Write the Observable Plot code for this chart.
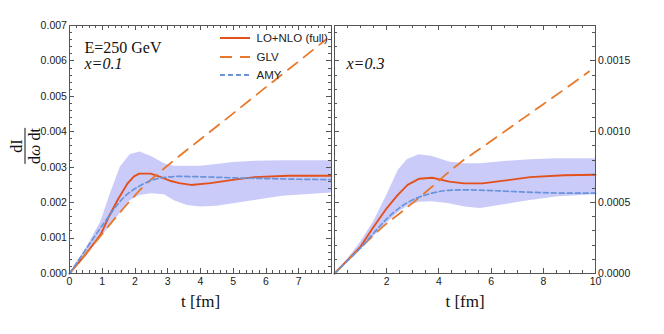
<!DOCTYPE html>
<html>
<head>
<meta charset="utf-8">
<script src="https://cdn.jsdelivr.net/npm/d3@7"></script>
<script src="https://cdn.jsdelivr.net/npm/@observablehq/plot@0.6"></script>
<style>
html, body { margin: 0; padding: 0; background: #fff; }
#wrap { position: relative; width: 664px; height: 334px; overflow: hidden; background: #fff; }
#left, #right { position: absolute; top: 0; }
#left { left: 0; }
#right { left: 333px; }
svg rect, svg line { shape-rendering: crispEdges; }
#ylab { position: absolute; left: 25px; top: 146px; transform: translate(-50%, -50%) rotate(-90deg);
  font-family: "Liberation Serif", "Times New Roman", Times, serif; font-size: 16px; color: #111; text-align: center; line-height: 15px; white-space: nowrap; }
#ylab .num { border-bottom: 1px solid #111; padding: 0 3px 1px 3px; }
#ylab .den { padding-top: 1px; }
#legend { position: absolute; left: 220px; top: 30px; font-family: "Liberation Sans", Arial, Helvetica, sans-serif; font-size: 11.5px; color: #222; }
#legend .row { position: absolute; left: 0; height: 16px; display: flex; align-items: center; white-space: nowrap; }
#legend svg { display: block; margin-right: 6.5px; }
</style>
</head>
<body>
<div id="wrap">
  <div id="left"></div>
  <div id="right"></div>
  <div id="ylab"><div class="num">dI</div><div class="den">d<i>ω</i> dt</div></div>
  <div id="legend"></div>
</div>
<script>
// ---------- tick definitions ----------
const xTicksL = [0, 1, 2, 3, 4, 5, 6, 7];
const xLabelsL = ["0", "1", "2", "3", "4", "5", "6", "7"];
const yTicksL = [0, 0.001, 0.002, 0.003, 0.004, 0.005, 0.006, 0.007];
const yLabelsL = ["0.000", "0.001", "0.002", "0.003", "0.004", "0.005", "0.006", "0.007"];
const xTicksR = [2, 4, 6, 8, 10];
const xLabelsR = ["2", "4", "6", "8", "10"];
const yTicksR = [0, 0.0005, 0.0010, 0.0015];
const yLabelsR = ["0.0000", "0.0005", "0.0010", "0.0015"];

// ---------- left panel data (x = 0.1) ----------
const bandTL  = [0, 0.5, 0.95, 1.25, 1.55, 1.85, 2.15, 2.5, 2.9, 3.2, 3.6, 4.0, 4.5, 5.0, 5.65, 6.5, 8.0];
const bandHiL = [0, 0.00070, 0.00145, 0.00225, 0.00300, 0.00335, 0.00343, 0.00330, 0.00310, 0.00303, 0.00303, 0.00303, 0.00308, 0.00313, 0.00317, 0.00318, 0.00318];
const bandLoL = [0, 0.00048, 0.00100, 0.00135, 0.00170, 0.00205, 0.00220, 0.00225, 0.00222, 0.00205, 0.00192, 0.00188, 0.00190, 0.00197, 0.00206, 0.00218, 0.00227];

const fullTL = [0, 0.5, 0.95, 1.2, 1.46, 1.77, 1.97, 2.13, 2.48, 2.79, 3.1, 3.35, 3.71, 4.3, 5.04, 5.65, 6.68, 8.0];
const fullVL = [0, 0.00055, 0.00110, 0.00160, 0.00206, 0.00254, 0.00274, 0.00282, 0.00282, 0.00272, 0.00261, 0.00255, 0.00250, 0.00255, 0.00265, 0.00272, 0.00276, 0.00276];

const glvTL = [0, 0.5, 1.0, 1.5, 1.9, 2.2, 2.6, 3.0, 4.0, 5.0, 6.0, 7.0, 7.85];
const glvVL = [0, 0.00056, 0.00112, 0.00168, 0.00210, 0.00240, 0.00274, 0.00305, 0.00379, 0.00452, 0.00526, 0.00599, 0.00662];

const amyTL = [0, 0.5, 1.05, 1.67, 2.18, 2.69, 3.35, 4.0, 5.0, 6.0, 7.0, 8.0];
const amyVL = [0, 0.00068, 0.00142, 0.00216, 0.00249, 0.00268, 0.00274, 0.00273, 0.00270, 0.00268, 0.00266, 0.00265];

// ---------- right panel data (x = 0.3) ----------
const bandTR  = [0, 0.5, 1.0, 1.5, 2.0, 2.45, 2.8, 3.25, 3.75, 4.4, 5.0, 5.6, 6.5, 7.5, 8.5, 10];
const bandHiR = [0, 0.000100, 0.000220, 0.000365, 0.000550, 0.000730, 0.000805, 0.000838, 0.000826, 0.000786, 0.000775, 0.000775, 0.000790, 0.000803, 0.000810, 0.000810];
const bandLoR = [0, 0.000085, 0.000165, 0.000260, 0.000355, 0.000430, 0.000475, 0.000502, 0.000507, 0.000493, 0.000470, 0.000458, 0.000485, 0.000515, 0.000540, 0.000555];

const fullTR = [0, 0.5, 1.0, 1.5, 2.0, 2.4, 2.8, 3.25, 3.75, 4.4, 4.96, 5.67, 6.5, 7.5, 8.8, 10];
const fullVR = [0, 0.000095, 0.000190, 0.000330, 0.000460, 0.000550, 0.000625, 0.000669, 0.000676, 0.000648, 0.000636, 0.000636, 0.000655, 0.000680, 0.000693, 0.000697];

const glvTR = [0, 0.5, 1.0, 1.5, 1.77, 2.54, 3.69, 4.4, 4.77, 6.0, 7.0, 8.0, 9.0, 9.75];
const glvVR = [0, 0.000092, 0.000182, 0.000270, 0.000317, 0.000430, 0.000605, 0.000720, 0.000775, 0.000935, 0.001065, 0.001195, 0.001325, 0.001425];

const amyTR = [0, 0.5, 1.0, 1.5, 2.0, 2.5, 3.0, 3.5, 4.0, 4.5, 5.0, 6.0, 7.0, 8.0, 9.0, 10];
const amyVR = [0, 0.000090, 0.000180, 0.000285, 0.000385, 0.000465, 0.000520, 0.000555, 0.000578, 0.000588, 0.000590, 0.000585, 0.000577, 0.000570, 0.000567, 0.000567];

// ---------- legend ----------
const legendNames = ["LO+NLO (full)", "GLV", "AMY"];

// ---------- styles ----------
const C_FULL = "#e2501c";
const C_GLV = "#e8782a";
const C_AMY = "#6a93da";
const C_BAND = "#cbcbf9";
const C_FRAME = "#555";
const DASH_GLV = "12,8";
const DASH_AMY = "5,3";
const SERIF = '"Liberation Serif", "Times New Roman", Times, serif';
const SANS = '"Liberation Sans", Arial, Helvetica, sans-serif';

function rows(ts, ...cols) {
  return ts.map((t, i) => ({t, a: cols[0][i], b: cols[1] ? cols[1][i] : undefined}));
}

function frameTicks(xMajor, xMinor, yMajor, yMinor, innerW, innerH) {
  const M = 5, m = 3;
  return [
    Plot.tickX(xMajor, {x: d => d, insetTop: innerH - M, stroke: C_FRAME}),
    Plot.tickX(xMinor, {x: d => d, insetTop: innerH - m, stroke: C_FRAME}),
    Plot.tickX(xMajor, {x: d => d, insetBottom: innerH - M, stroke: C_FRAME}),
    Plot.tickX(xMinor, {x: d => d, insetBottom: innerH - m, stroke: C_FRAME}),
    Plot.tickY(yMajor, {y: d => d, insetRight: innerW - M, stroke: C_FRAME}),
    Plot.tickY(yMinor, {y: d => d, insetRight: innerW - m, stroke: C_FRAME}),
    Plot.tickY(yMajor, {y: d => d, insetLeft: innerW - M, stroke: C_FRAME}),
    Plot.tickY(yMinor, {y: d => d, insetLeft: innerW - m, stroke: C_FRAME}),
  ];
}

function panel(o) {
  const innerW = o.width - o.marginLeft - o.marginRight;
  const innerH = o.height - o.marginTop - o.marginBottom;
  return Plot.plot({
    width: o.width, height: o.height,
    marginLeft: o.marginLeft, marginRight: o.marginRight,
    marginTop: o.marginTop, marginBottom: o.marginBottom,
    x: {domain: o.xDomain},
    y: {domain: o.yDomain},
    style: {background: "transparent", fontFamily: SANS, fontSize: "10.5px", color: "#1a1a1a"},
    marks: [
      Plot.areaY(rows(o.band[0], o.band[1], o.band[2]), {x: "t", y1: "b", y2: "a", fill: C_BAND, curve: "linear"}),
      Plot.line(rows(o.full[0], o.full[1]), {x: "t", y: "a", stroke: C_FULL, strokeWidth: 1.9, curve: "linear"}),
      Plot.line(rows(o.glv[0], o.glv[1]), {x: "t", y: "a", stroke: C_GLV, strokeWidth: 1.8, strokeDasharray: DASH_GLV, curve: "monotone-x"}),
      Plot.line(rows(o.amy[0], o.amy[1]), {x: "t", y: "a", stroke: C_AMY, strokeWidth: 1.7, strokeDasharray: DASH_AMY, curve: "monotone-x"}),
      Plot.frame({stroke: C_FRAME, strokeWidth: 1}),
      ...frameTicks(o.xTicks, o.xMinor, o.yAxisTicks, o.yMinor, innerW, innerH),
      Plot.axisX({ticks: o.xTicks, tickSize: 0, tickPadding: 4, label: null, fontFamily: SANS,
        tickFormat: d => o.xLabels[o.xTicks.indexOf(d)]}),
      Plot.axisY({anchor: o.yAnchor, ticks: o.yAxisTicks, tickSize: 0, tickPadding: 2.6, label: null, fontFamily: SANS,
        tickFormat: d => o.yLabels[o.yAxisTicks.indexOf(d)]}),
      Plot.text(["t [fm]"], {text: d => d, frameAnchor: "bottom", dy: 33,
        fontFamily: SERIF, fontSize: 17, fill: "#111"}),
      ...o.extra
    ]
  });
}

const left = panel({
  width: 332, height: 334, marginLeft: 69, marginRight: 1, marginTop: 25, marginBottom: 61,
  xDomain: [0, 8], yDomain: [0, 0.007],
  band: [bandTL, bandHiL, bandLoL], full: [fullTL, fullVL], glv: [glvTL, glvVL], amy: [amyTL, amyVL],
  xTicks: xTicksL, xLabels: xLabelsL, xMinor: d3.range(0, 8.01, 0.2),
  yAxisTicks: yTicksL, yLabels: yLabelsL, yMinor: d3.range(0, 0.00701, 0.0002), yAnchor: "left",
  extra: [
    Plot.text(["E=250 GeV"], {text: d => d, frameAnchor: "top-left", dx: 15, dy: 16, textAnchor: "start",
      fontFamily: SERIF, fontSize: 16, fill: "#111"}),
    Plot.text(["x=0.1"], {text: d => d, frameAnchor: "top-left", dx: 15, dy: 32, textAnchor: "start",
      fontFamily: SERIF, fontStyle: "italic", fontSize: 16, fill: "#111"})
  ]
});
document.getElementById("left").appendChild(left);

const right = panel({
  width: 331, height: 334, marginLeft: 1, marginRight: 69, marginTop: 25, marginBottom: 61,
  xDomain: [0, 10], yDomain: [0, 0.00175],
  band: [bandTR, bandHiR, bandLoR], full: [fullTR, fullVR], glv: [glvTR, glvVR], amy: [amyTR, amyVR],
  xTicks: xTicksR, xLabels: xLabelsR, xMinor: d3.range(0, 10.01, 0.5),
  yAxisTicks: yTicksR, yLabels: yLabelsR, yMinor: d3.range(0, 0.00175, 0.0001), yAnchor: "right",
  extra: [
    Plot.text(["x=0.3"], {text: d => d, frameAnchor: "top-left", dx: 12, dy: 32, textAnchor: "start",
      fontFamily: SERIF, fontStyle: "italic", fontSize: 16, fill: "#111"})
  ]
});
document.getElementById("right").appendChild(right);

// legend (inside left panel, top-right)
const legendStyles = [
  {stroke: C_FULL, dash: null, w: 1.9},
  {stroke: C_GLV, dash: DASH_GLV, w: 1.8},
  {stroke: C_AMY, dash: DASH_AMY, w: 1.7}
];
const legend = document.getElementById("legend");
legendNames.forEach((name, i) => {
  const row = document.createElement("div");
  row.className = "row";
  row.style.top = (i * 18.6) + "px";
  const s = legendStyles[i];
  row.innerHTML = `<svg width="30" height="16"><line x1="0" x2="30" y1="8" y2="8" stroke="${s.stroke}" stroke-width="${s.w}" ${s.dash ? `stroke-dasharray="${s.dash}"` : ""}/></svg><span>${name}</span>`;
  legend.appendChild(row);
});
</script>
</body>
</html>
